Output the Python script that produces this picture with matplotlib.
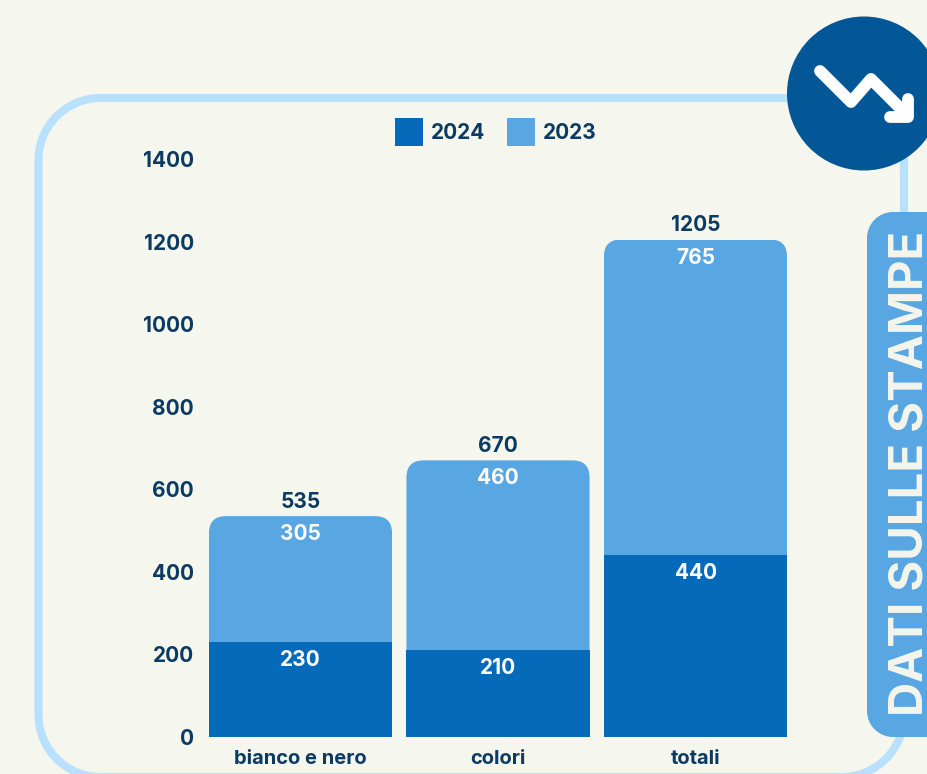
import matplotlib
matplotlib.use("Agg")
import matplotlib.pyplot as plt
from matplotlib.patches import FancyBboxPatch, Circle, PathPatch
from matplotlib.path import Path
from matplotlib.transforms import IdentityTransform

categories = ["bianco e nero", "colori", "totali"]
values_2024 = [230, 210, 440]
values_2023 = [305, 460, 765]
totals = [535, 670, 1205]
yticks = [0, 200, 400, 600, 800, 1000, 1200, 1400]
title = "DATI SULLE STAMPE"

BG = "#F5F6ED"
DARK = "#056AB9"
LIGHT = "#58A6E2"
BORDER = "#BAE0FF"
NAVY = "#0B3A63"
CIRCLE = "#045796"
W, H = 927, 774
FS = 15


def rounded_rect(x0, y0, x1, y1, r):
    # true circular corners, the boxstyle ones are too pinched at this radius
    k = 0.448 * r
    verts = [(x0 + r, y0), (x1 - r, y0),
             (x1 - k, y0), (x1, y0 + k), (x1, y0 + r),
             (x1, y1 - r),
             (x1, y1 - k), (x1 - k, y1), (x1 - r, y1),
             (x0 + r, y1),
             (x0 + k, y1), (x0, y1 - k), (x0, y1 - r),
             (x0, y0 + r),
             (x0, y0 + k), (x0 + k, y0), (x0 + r, y0),
             (x0 + r, y0)]
    codes = [Path.MOVETO, Path.LINETO,
             Path.CURVE4, Path.CURVE4, Path.CURVE4,
             Path.LINETO,
             Path.CURVE4, Path.CURVE4, Path.CURVE4,
             Path.LINETO,
             Path.CURVE4, Path.CURVE4, Path.CURVE4,
             Path.LINETO,
             Path.CURVE4, Path.CURVE4, Path.CURVE4,
             Path.CLOSEPOLY]
    return Path(verts, codes)


plt.rcParams["font.family"] = ["Inter", "DejaVu Sans"]
plt.rcParams["font.weight"] = "bold"

fig = plt.figure(figsize=(W / 100, H / 100), dpi=100, facecolor=BG)

# background layer in pixel coordinates
bg = fig.add_axes([0, 0, 1, 1])
bg.set_xlim(0, W)
bg.set_ylim(H, 0)
bg.axis("off")
# filled with BG on purpose: agg clips unfilled curves badly past the canvas edge
bg.add_patch(PathPatch(rounded_rect(38.5, 98, 904, 777, 62), fc=BG, ec=BORDER, lw=5.8))
bg.add_patch(PathPatch(rounded_rect(867, 212, 987, 737, 26), fc=LIGHT, ec="none"))
bg.add_patch(Circle((864, 93.5), 77, fc=CIRCLE, ec="none"))
bg.plot([820, 851, 871, 903], [71, 102, 79, 111], color="white", lw=8.5,
        solid_capstyle="round", solid_joinstyle="round")
bg.plot([890, 908, 908], [117, 117, 99], color="white", lw=8.5,
        solid_capstyle="round", solid_joinstyle="round")
bg.text(911, 473, title, rotation=90, ha="center", va="center", color=BG, fontsize=34)

# chart
ax = fig.add_axes([201.75 / W, (H - 737) / H, 592.5 / W, 578 / H])
ax.patch.set_alpha(0)
x = list(range(len(categories)))
bars_2024 = ax.bar(x, values_2024, width=0.927, color=DARK, label="2024", zorder=2)
bars_2023 = ax.bar(x, values_2023, width=0.927, bottom=values_2024, color=LIGHT, label="2023", zorder=2)
ax.set_xlim(-0.5, 2.5)
ax.set_ylim(0, 1400)
ax.set_yticks(yticks)
ax.set_xticks(x, categories)
ax.tick_params(axis="both", length=0, labelcolor=NAVY)
ax.tick_params(axis="x", pad=9, labelsize=14.5)
ax.tick_params(axis="y", pad=5.5, labelsize=FS)
for s in ax.spines.values():
    s.set_visible(False)

# round the top corners of the upper bars
fig.canvas.draw()
for bar in bars_2023:
    box = bar.get_window_extent()
    clip = FancyBboxPatch((box.x0, box.y0 - 40), box.width, box.height + 40,
                          boxstyle="round,pad=0,rounding_size=17", transform=IdentityTransform())
    bar.set_clip_path(clip)

for i in x:
    ax.annotate(str(totals[i]), (i, totals[i]), xytext=(0, 10.5), textcoords="offset points",
                ha="center", va="center", color=NAVY, fontsize=FS)
    ax.annotate(str(values_2023[i]), (i, totals[i]), xytext=(0, -13), textcoords="offset points",
                ha="center", va="center", color="white", fontsize=FS)
    ax.annotate(str(values_2024[i]), (i, values_2024[i]), xytext=(0, -13), textcoords="offset points",
                ha="center", va="center", color="white", fontsize=FS)

leg = ax.legend(loc="center", bbox_to_anchor=((496 - 201.75) / 592.5, (737 - 132) / 578), ncol=2,
                frameon=False, fontsize=FS, handlelength=1.35, handleheight=1.7,
                handletextpad=0.38, columnspacing=1.05, borderpad=0, labelcolor=NAVY)

fig.savefig("out.png", dpi=100, facecolor=BG)
